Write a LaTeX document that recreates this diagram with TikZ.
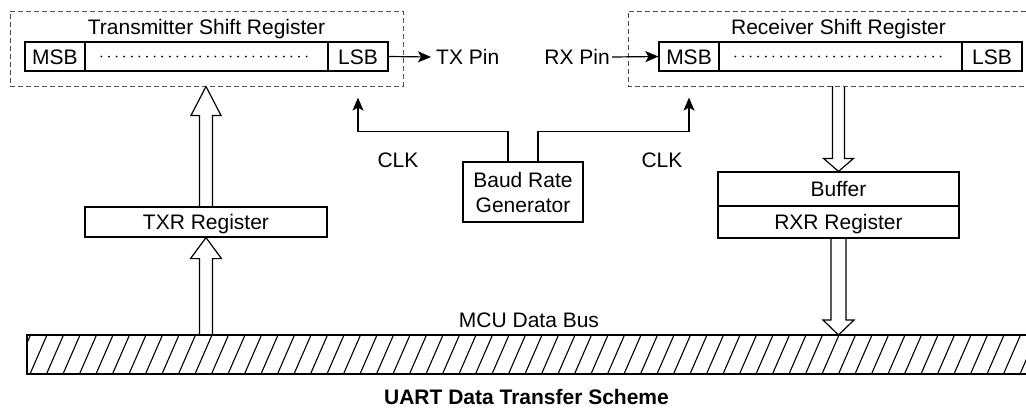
\documentclass[tikz,border=0pt]{standalone}
\usepackage{fontspec}
\setmainfont{Liberation Sans}
\usetikzlibrary{arrows.meta,calc}
\pgfdeclarelayer{bg}
\pgfsetlayers{bg,main}
\newcommand\hup[5]{\draw[hollowarr] let \p1=#1, \p2=#2 in (\x2-#3,\y1) -- (\x2-#3,\y2-#5) -- (\x2-#4,\y2-#5) -- (\x2,\y2) -- (\x2+#4,\y2-#5) -- (\x2+#3,\y2-#5) -- (\x2+#3,\y1);}
\newcommand\hdown[5]{\draw[hollowarr] let \p1=#1, \p2=#2 in (\x2-#3,\y1) -- (\x2-#3,\y2+#5) -- (\x2-#4,\y2+#5) -- (\x2,\y2) -- (\x2+#4,\y2+#5) -- (\x2+#3,\y2+#5) -- (\x2+#3,\y1);}
\begin{document}
\begin{tikzpicture}[x=1pt,y=-1pt,
  every node/.style={font=\fontsize{21}{25}\selectfont, inner sep=0pt},
  lbl/.style={text height=15pt, text depth=0pt},
  cell/.style={draw, line width=1.2pt, minimum height=29pt, text height=15pt, text depth=0pt},
  box/.style={draw, line width=1.2pt},
  dbox/.style={draw=black!70, line width=0.9pt, dash pattern=on 5pt off 3pt},
  dots/.style={line width=2pt, line cap=round, dash pattern=on 0pt off 7.6pt},
  conn/.style={line width=1.2pt, -{Stealth[length=13pt,width=11pt,inset=3pt]}},
  hollowarr/.style={draw, fill=white, line width=1.2pt, line join=miter},
  hatch/.style={line width=1.1pt},
]
\useasboundingbox (0,0) rectangle (1026,408);

% Transmitter shift register
\node[dbox, minimum width=393pt, minimum height=75pt] (txbox) at (206.5,48.5) {};
\node[lbl] (txtitle) at (206.5,26.5) {Transmitter Shift Register};
\node[cell, minimum width=60pt] (txmsb) at (55,56.5) {MSB};
\node[cell, minimum width=243pt] (txmid) at (206.5,56.5) {};
\node[cell, minimum width=60pt] (txlsb) at (358,56.5) {LSB};
\draw[dots] ([xshift=17pt]txmid.west) -- ([xshift=-17pt]txmid.east);
\node[lbl, anchor=west] (txpin) at (436,57) {TX Pin};
\draw[conn] (txlsb.east) -- ([xshift=-5pt]txpin.west);

% Receiver shift register
\coordinate (rxboxS) at (628,86);
\draw[dbox] (1026,11) -- (628,11) -- (rxboxS) -- (1026,86);
\node[lbl] (rxtitle) at (838.5,26.5) {Receiver Shift Register};
\node[cell, minimum width=60pt] (rxmsb) at (689,56.5) {MSB};
\node[cell, minimum width=243pt] (rxmid) at (840.5,56.5) {};
\node[cell, minimum width=60pt] (rxlsb) at (992,56.5) {LSB};
\draw[dots] ([xshift=17pt]rxmid.west) -- ([xshift=-17pt]rxmid.east);
\node[lbl, anchor=east] (rxpin) at (610,57) {RX Pin};
\draw[conn] ([xshift=2pt]rxpin.east) -- (rxmsb.west);

% Baud rate generator and clocks
\node[box, minimum width=120pt, minimum height=60pt, align=center] (baud) at (523,192) {Baud Rate\\Generator};
\coordinate (clkLtip) at ($(txlsb.south)+(0,26)$);
\coordinate (clkRtip) at ($(rxmsb.south)+(0,26)$);
\draw[conn] ([xshift=-15pt]baud.north) -- ++(0,-30) -| (clkLtip);
\draw[conn] ([xshift=15pt]baud.north) -- ++(0,-30) -| (clkRtip);
\node[lbl] (clkL) at (398,160) {CLK};
\node[lbl] (clkR) at (662,160) {CLK};

% Registers
\node[cell, minimum width=242pt, minimum height=30pt] (txr) at (206,222) {TXR Register};
\node[cell, minimum width=241pt, minimum height=34pt] (buf) at (838.5,189) {Buffer};
\node[cell, minimum width=241pt, minimum height=32pt] (rxr) at (838.5,222) {RXR Register};

% Bus
\coordinate (busL) at (27,335);
\begin{scope}
\clip (27,335) rectangle (1026,374);
\foreach \x in {-3,13.5,...,1045} \draw[hatch] (\x,374) -- (\x+17,335);
\end{scope}
\draw[line width=1.2pt] (1026,335) -- (busL) -- (27,374) -- (1026,374);
\node[lbl] (buslbl) at (529,319.5) {MCU Data Bus};

% Hollow arrows
\begin{pgfonlayer}{bg}
\hup{(txr.north)}{(txr.north |- txbox.south)}{6.5pt}{15pt}{29pt}
\hup{(txr.south |- busL)}{(txr.south)}{6.5pt}{15.5pt}{21pt}
\hdown{(buf.north |- rxboxS)}{(buf.north)}{6pt}{15pt}{13pt}
\hdown{(rxr.south)}{(rxr.south |- busL)}{7.5pt}{15.5pt}{15pt}
\end{pgfonlayer}

\node[lbl, font=\bfseries\fontsize{21}{25}\selectfont] (title) at (526.5,397) {UART Data Transfer Scheme};
\end{tikzpicture}
\end{document}
